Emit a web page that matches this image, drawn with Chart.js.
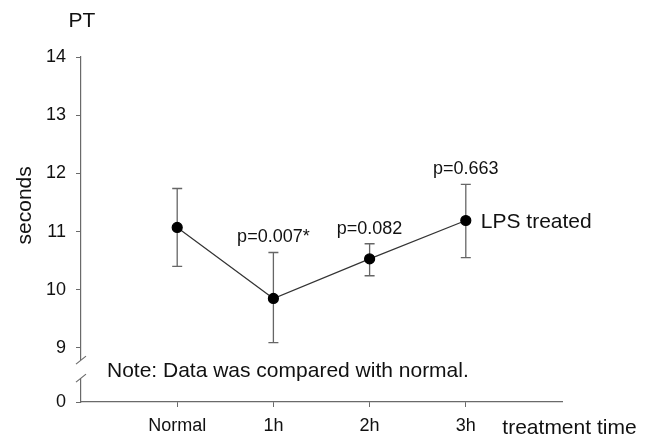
<!DOCTYPE html>
<html>
<head>
<meta charset="utf-8">
<script src="https://cdn.jsdelivr.net/npm/chart.js@4/dist/chart.umd.min.js"></script>
<style>
  html, body { margin: 0; padding: 0; background: #fff; }
  #wrap { width: 652px; height: 439px; }
</style>
</head>
<body>
<div id="wrap"><canvas id="grafico" width="652" height="439"></canvas></div>
<script>
const categories = ['Normal', '1h', '2h', '3h'];
const xPos = [1, 2, 3, 4];
const means = [11.07, 9.85, 10.53, 11.19];
const upper = [11.74, 10.64, 10.79, 11.81];
const lower = [10.40, 9.09, 10.24, 10.55];
const pLabels = ['', 'p=0.007*', 'p=0.082', 'p=0.663'];
const yTicks = [9, 10, 11, 12, 13, 14];
const zeroAt = 8.07; // where "0" sits below the axis break

const FONT = '"Liberation Sans", Arial, sans-serif';
const AXIS = '#6a6a6a';

// error bars, axis break and the text notes
const extras = {
  id: 'extras',
  beforeDatasetsDraw(chart) {
    const { ctx, scales: { x, y } } = chart;
    ctx.save();
    ctx.strokeStyle = '#666';
    ctx.lineWidth = 1.3;
    for (let i = 0; i < means.length; i++) {
      const px = x.getPixelForValue(xPos[i]);
      const top = y.getPixelForValue(upper[i]);
      const bot = y.getPixelForValue(lower[i]);
      ctx.beginPath();
      ctx.moveTo(px, top); ctx.lineTo(px, bot);
      ctx.moveTo(px - 5, top); ctx.lineTo(px + 5, top);
      ctx.moveTo(px - 5, bot); ctx.lineTo(px + 5, bot);
      ctx.stroke();
    }
    ctx.restore();
  },
  afterDraw(chart) {
    const { ctx, chartArea, scales: { x, y } } = chart;
    ctx.save();
    // axis break
    const ax = chartArea.left;
    const b1 = y.getPixelForValue(8.79);
    const b2 = y.getPixelForValue(8.48);
    ctx.fillStyle = '#fff';
    ctx.fillRect(ax - 2, b1, 4, b2 - b1);
    ctx.strokeStyle = AXIS;
    ctx.lineWidth = 1.2;
    ctx.beginPath();
    ctx.moveTo(ax - 5, b1 + 4); ctx.lineTo(ax + 5, b1 - 4);
    ctx.moveTo(ax - 5, b2 + 4); ctx.lineTo(ax + 5, b2 - 4);
    ctx.stroke();

    ctx.fillStyle = '#111';
    ctx.textBaseline = 'middle';
    // p values above the error bars
    ctx.font = '18px ' + FONT;
    ctx.textAlign = 'center';
    pLabels.forEach((t, i) => {
      if (!t) return;
      ctx.fillText(t, x.getPixelForValue(xPos[i]), y.getPixelForValue(upper[i]) - 15);
    });
    ctx.font = '21px ' + FONT;
    ctx.textAlign = 'left';
    ctx.fillText('LPS treated', x.getPixelForValue(4) + 15, y.getPixelForValue(means[3]) + 2);
    ctx.fillText('Note: Data was compared with normal.', x.getPixelForValue(0.27), y.getPixelForValue(8.6));
    ctx.fillText('treatment time', x.getPixelForValue(4.38), chartArea.bottom + 26);
    ctx.textAlign = 'center';
    ctx.fillText('PT', ax + 1, chartArea.top - 36);
    ctx.translate(25, y.getPixelForValue(11.45));
    ctx.rotate(-Math.PI / 2);
    ctx.fillText('seconds', 0, 0);
    ctx.restore();
  }
};

new Chart(document.getElementById('grafico').getContext('2d'), {
  type: 'scatter',
  data: {
    datasets: [{
      label: 'LPS treated',
      data: xPos.map((v, i) => ({ x: v, y: means[i] })),
      showLine: true,
      borderColor: '#333',
      borderWidth: 1.2,
      pointRadius: 5,
      pointBackgroundColor: '#000',
      pointBorderColor: '#000',
      clip: false
    }]
  },
  options: {
    responsive: false,
    animation: false,
    events: [],
    layout: { padding: { left: 0, right: 90, top: 57, bottom: 0 } },
    plugins: { legend: { display: false }, tooltip: { enabled: false } },
    scales: {
      x: {
        type: 'linear',
        min: 0,
        max: 5,
        afterFit(s) { s.height = 37; },
        afterBuildTicks(s) { s.ticks = xPos.map(v => ({ value: v })); },
        grid: { drawOnChartArea: false, drawTicks: true, tickLength: 5, color: AXIS },
        border: { color: AXIS, width: 1.2 },
        ticks: {
          padding: 8,
          color: '#111',
          font: { family: FONT, size: 18 },
          callback: v => categories[xPos.indexOf(v)]
        }
      },
      y: {
        min: zeroAt,
        max: 14,
        afterFit(s) { s.width = 81; },
        afterBuildTicks(s) { s.ticks = [zeroAt, ...yTicks].map(v => ({ value: v })); },
        grid: { drawOnChartArea: false, drawTicks: true, tickLength: 5, color: AXIS },
        border: { color: AXIS, width: 1.2 },
        ticks: {
          padding: 10,
          color: '#111',
          font: { family: FONT, size: 18 },
          callback: v => (v < 9 ? '0' : v)
        }
      }
    }
  },
  plugins: [extras]
});
</script>
</body>
</html>
